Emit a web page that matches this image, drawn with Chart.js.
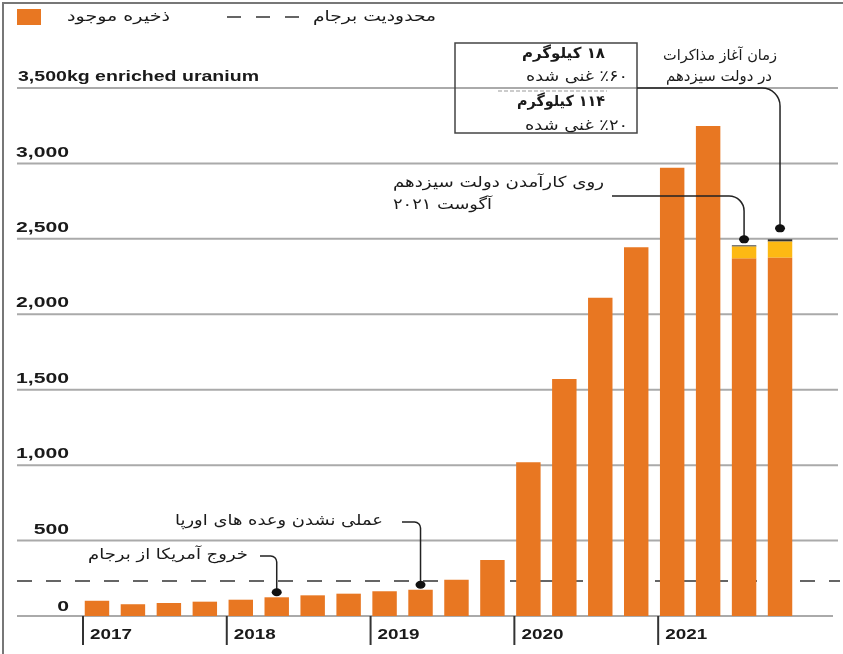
<!DOCTYPE html>
<html>
<head>
<meta charset="utf-8">
<script src="https://cdn.jsdelivr.net/npm/chart.js@4.4.1/dist/chart.umd.min.js"></script>
<style>
    html, body { margin: 0; padding: 0; background: #fff; }
    #wrap { width: 843px; height: 654px; }
</style>
</head>
<body>
<div id="wrap"><canvas id="stockChart" width="843" height="654"></canvas></div>
<script>

// quarterly stockpile, 2017 Q1 .. 2021 Q4
const quarters = [
    "2017 Q1", "2017 Q2", "2017 Q3", "2017 Q4",
    "2018 Q1", "2018 Q2", "2018 Q3", "2018 Q4",
    "2019 Q1", "2019 Q2", "2019 Q3", "2019 Q4",
    "2020 Q1", "2020 Q2", "2020 Q3", "2020 Q4",
    "2021 Q1", "2021 Q2", "2021 Q3", "2021 Q4"
];

const years = ["2017", "2018", "2019", "2020", "2021"];

const stockpile = [
    101, 78, 86, 95,
    108, 124, 137, 148,
    164, 174, 241, 371,
    1019, 1571, 2110, 2444,
    2972, 3248, 2369, 2375
];

// 20% enriched (yellow) and 60% enriched (dark) on top
const enriched20 = [
    0, 0, 0, 0, 0, 0, 0, 0, 0, 0,
    0, 0, 0, 0, 0, 0, 0, 0, 80, 107
];

const enriched60 = [
    0, 0, 0, 0, 0, 0, 0, 0, 0, 0,
    0, 0, 0, 0, 0, 0, 0, 0, 8, 15
];

const yTicks = [0, 500, 1000, 1500, 2000, 2500, 3000, 3500];

const jcpoaLimit = 232;

const ORANGE = "#e87722";
const YELLOW = "#fdb913";
const DARK = "#333333";

const PERSIAN = "'DejaVu Sans', sans-serif";
const LATIN = "'Liberation Sans', Arial, sans-serif";

function total(i) {
    return stockpile[i] + enriched20[i] + enriched60[i];
}

// text squeezed or stretched sideways to the width it has in the print
function fitText(ctx, text, x, y, align, font, width, rtl) {
    ctx.save();
    ctx.direction = rtl ? "rtl" : "ltr";
    ctx.font = font;
    ctx.fillStyle = "#1a1a1a";
    ctx.textAlign = align;
    ctx.textBaseline = "middle";
    const sx = width ? width / ctx.measureText(text).width : 1;
    ctx.translate(x, y);
    ctx.scale(sx, 1);
    ctx.fillText(text, 0, 0);
    ctx.restore();
}

function faText(ctx, text, x, y, align, width, bold) {
    fitText(ctx, text, x, y, align,
        (bold ? "bold " : "") + "15px " + PERSIAN, width, true);
}

function leader(ctx, x1, y1, x2, dotY, r) {
    ctx.save();
    ctx.strokeStyle = "#222";
    ctx.lineWidth = 1.5;
    ctx.beginPath();
    ctx.moveTo(x1, y1);
    ctx.arcTo(x2, y1, x2, dotY, r);
    ctx.lineTo(x2, dotY);
    ctx.stroke();
    ctx.fillStyle = "#111";
    ctx.beginPath();
    ctx.ellipse(x2, dotY, 5, 4, 0, 0, Math.PI * 2);
    ctx.fill();
    ctx.restore();
}

const backdrop = {
    id: "backdrop",

    beforeDraw(chart) {
        const ctx = chart.ctx;
        ctx.save();
        ctx.fillStyle = "#fff";
        ctx.fillRect(0, 0, chart.width, chart.height);
        ctx.strokeStyle = "#777";
        ctx.lineWidth = 2;
        ctx.beginPath();
        ctx.moveTo(3, 654);
        ctx.lineTo(3, 3);
        ctx.lineTo(843, 3);
        ctx.stroke();
        ctx.restore();
    },

    beforeDatasetsDraw(chart) {
        const ctx = chart.ctx;
        const x = chart.scales.x;
        const y = chart.scales.y;

        ctx.save();
        ctx.font = "bold 15px " + LATIN;
        const numScale = 53 / ctx.measureText("3,000").width;
        ctx.restore();

        // grid lines and tick labels
        yTicks.forEach(v => {
            const py = y.getPixelForValue(v);
            ctx.save();
            ctx.strokeStyle = "#aaaaaa";
            ctx.lineWidth = 2;
            ctx.beginPath();
            ctx.moveTo(17, py);
            ctx.lineTo(v === 0 ? 833 : 838, py);
            ctx.stroke();
            ctx.restore();

            if (v === 3500) {
                fitText(ctx, "3,500kg enriched uranium", 18, py - 11,
                    "left", "bold 15px " + LATIN, 241, false);
            }
            else {
                const label = v.toLocaleString("en-US");
                ctx.save();
                ctx.font = "bold 15px " + LATIN;
                const w = ctx.measureText(label).width * numScale;
                ctx.restore();
                fitText(ctx, label, 69, py - (v === 0 ? 9 : 11),
                    "right", "bold 15px " + LATIN, w, false);
            }
        });

        // jcpoa limit
        const ly = y.getPixelForValue(jcpoaLimit);
        ctx.save();
        ctx.strokeStyle = "#333";
        ctx.lineWidth = 1.5;
        ctx.setLineDash([15, 14]);
        ctx.beginPath();
        ctx.moveTo(17, ly);
        ctx.lineTo(840, ly);
        ctx.stroke();
        ctx.restore();

        // year ticks
        const base = y.getPixelForValue(0);
        years.forEach((yr, k) => {
            const px = x.getPixelForValue(k * 4) - 14;
            ctx.save();
            ctx.strokeStyle = "#333";
            ctx.lineWidth = 2;
            ctx.beginPath();
            ctx.moveTo(px, base);
            ctx.lineTo(px, base + 29);
            ctx.stroke();
            ctx.restore();
            fitText(ctx, yr, px + 7, base + 19, "left",
                "bold 15px " + LATIN, 42, false);
        });
    },

    afterDatasetsDraw(chart) {
        const ctx = chart.ctx;
        const x = chart.scales.x;
        const y = chart.scales.y;

        // legend
        ctx.save();
        ctx.fillStyle = ORANGE;
        ctx.fillRect(17, 9, 24, 16);
        ctx.strokeStyle = "#333";
        ctx.lineWidth = 1.5;
        ctx.setLineDash([14, 15]);
        ctx.beginPath();
        ctx.moveTo(227, 17);
        ctx.lineTo(300, 17);
        ctx.stroke();
        ctx.restore();
        faText(ctx, "ذخیره موجود", 170, 17, "right", 103);
        faText(ctx, "محدودیت برجام", 436, 17, "right", 123);

        // box
        ctx.save();
        ctx.strokeStyle = "#444";
        ctx.lineWidth = 1.5;
        ctx.strokeRect(455, 43, 182, 90);
        ctx.strokeStyle = "#999";
        ctx.lineWidth = 1;
        ctx.setLineDash([4, 2]);
        ctx.beginPath();
        ctx.moveTo(498, 91);
        ctx.lineTo(607, 91);
        ctx.stroke();
        ctx.restore();
        faText(ctx, "۱۸ کیلوگرم", 605, 54, "right", 83, true);
        faText(ctx, "٪۶۰ غنی شده", 628, 77, "right", 102);
        faText(ctx, "۱۱۴ کیلوگرم", 605, 102, "right", 88, true);
        faText(ctx, "٪۲۰ غنی شده", 628, 126, "right", 103);

        // negotiations
        const x19 = x.getPixelForValue(19);
        leader(ctx, 637, 88, x19, y.getPixelForValue(total(19)) - 11, 18);
        faText(ctx, "زمان آغاز مذاکرات", 720, 56, "center", 114);
        faText(ctx, "در دولت سیزدهم", 719, 77, "center", 106);

        // new government
        const x18 = x.getPixelForValue(18);
        leader(ctx, 612, 196, x18, y.getPixelForValue(total(18)) - 6, 15);
        faText(ctx, "روی کارآمدن دولت سیزدهم", 393, 183, "left", 211);
        faText(ctx, "آگوست ۲۰۲۱", 393, 205, "left", 99);

        // europe
        const x9 = x.getPixelForValue(9);
        leader(ctx, 402, 522, x9, y.getPixelForValue(total(9)) - 5, 6);
        faText(ctx, "عملی نشدن وعده های اورپا", 383, 521, "right", 208);

        // us exit
        const x5 = x.getPixelForValue(5);
        leader(ctx, 260, 556, x5, y.getPixelForValue(total(5)) - 5, 6);
        faText(ctx, "خروج آمریکا از برجام", 248, 555, "right", 160);
    }
};

new Chart(document.getElementById("stockChart"), {

    type: "bar",

    data: {

        labels: quarters,

        datasets: [
            {
                label: "stockpile",
                data: stockpile,
                backgroundColor: ORANGE,
                borderWidth: 0
            },
            {
                label: "20%",
                data: enriched20,
                backgroundColor: YELLOW,
                borderWidth: 0
            },
            {
                label: "60%",
                data: enriched60,
                backgroundColor: DARK,
                borderWidth: 0
            }
        ]

    },

    options: {

        responsive: false,
        animation: false,
        devicePixelRatio: 1,

        layout: {
            padding: { left: 79, right: 45, top: 88, bottom: 38 }
        },

        datasets: {
            bar: {
                barPercentage: 0.68,
                categoryPercentage: 1
            }
        },

        plugins: {
            legend: { display: false },
            tooltip: { enabled: false }
        },

        scales: {

            x: {
                display: false,
                stacked: true
            },

            y: {
                display: false,
                stacked: true,
                min: 0,
                max: 3500
            }

        }

    },

    plugins: [backdrop]

});

</script>
</body>
</html>
